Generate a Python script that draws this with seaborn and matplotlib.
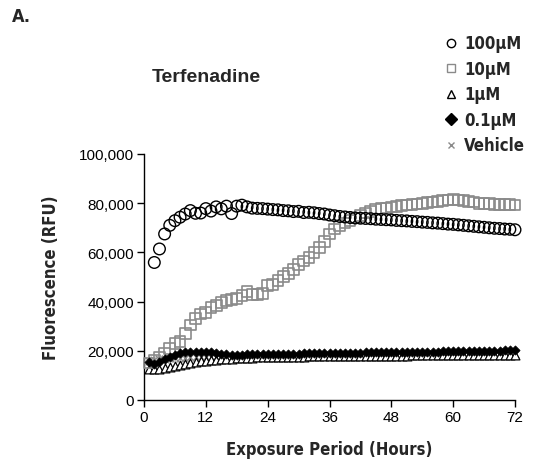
import matplotlib
matplotlib.use("Agg")
import matplotlib.pyplot as plt
import matplotlib.ticker as mticker
from matplotlib.lines import Line2D
from matplotlib import font_manager
import seaborn as sns

hours = list(range(1, 73))
hours_100 = list(range(2, 73))

conc_100uM = [55900, 61400, 67500, 71000, 72900, 74300, 75600, 77000, 75900, 76000,
              77800, 76800, 78500, 77700, 78800, 75800, 78800, 79200, 78500, 78000,
              77900, 77800, 77600, 77400, 77300, 77000, 76900, 76600, 76700, 76200,
              76300, 76100, 75800, 75600, 75200, 74900, 74600, 74400, 74200, 74000,
              73900, 73800, 73700, 73500, 73400, 73300, 73200, 73000, 72900, 72800,
              72600, 72500, 72300, 72200, 72000, 71900, 71700, 71500, 71400, 71200,
              71000, 70800, 70600, 70400, 70200, 70000, 69800, 69700, 69500, 69400,
              69200]
conc_10uM = [15000, 16200, 17500, 19000, 21000, 23000, 23800, 27000, 30500, 33000,
             35000, 35500, 37500, 38500, 39500, 40500, 40800, 41300, 42500, 44000,
             43000, 43000, 43300, 46500, 47000, 48500, 50200, 51500, 53000, 55000,
             56500, 58000, 60000, 62000, 64500, 67500, 69500, 71000, 72000, 73000,
             74000, 75000, 76000, 76500, 77300, 77700, 78000, 78500, 78700, 79000,
             79300, 79500, 79700, 80000, 80300, 80500, 80700, 81000, 81300, 81500,
             81300, 81000, 80800, 80500, 80000, 79800, 79800, 79600, 79500, 79600,
             79500, 79300]
conc_1uM = [12500, 12400, 12800, 13200, 13600, 14000, 14400, 14800, 15200, 15500,
            15800, 16000, 16200, 16400, 16600, 16700, 16800, 16900, 17000, 17100,
            17200, 17300, 17300, 17400, 17400, 17500, 17500, 17500, 17600, 17600,
            17600, 17700, 17700, 17700, 17700, 17800, 17800, 17800, 17800, 17800,
            17900, 17900, 17900, 17900, 17900, 18000, 18000, 18000, 18000, 18000,
            18000, 18100, 18100, 18100, 18100, 18100, 18100, 18100, 18200, 18200,
            18200, 18200, 18200, 18200, 18200, 18300, 18300, 18300, 18300, 18300,
            18300, 18300]
conc_01uM = [15500, 14800, 15500, 16500, 17500, 18300, 19000, 19500, 19700, 19700,
             19600, 19500, 19400, 19000, 18700, 18500, 18300, 18300, 18400, 18500,
             18600, 18600, 18700, 18700, 18800, 18800, 18800, 18900, 18900, 18900,
             19000, 19000, 19000, 19100, 19100, 19100, 19200, 19200, 19200, 19300,
             19300, 19300, 19400, 19400, 19400, 19500, 19500, 19500, 19500, 19600,
             19600, 19600, 19600, 19700, 19700, 19700, 19700, 19800, 19800, 19800,
             19800, 19900, 19900, 19900, 20000, 20000, 20000, 20100, 20100, 20200,
             20200, 20200]
vehicle = [16000, 16300, 16600, 16800, 17000, 17000, 17100, 17200, 17300, 17300,
           17400, 17400, 17500, 17500, 17500, 17600, 17600, 17600, 17700, 17700,
           17700, 17800, 17800, 17800, 17800, 17900, 17900, 17900, 17900, 18000,
           18000, 18000, 18000, 18100, 18100, 18100, 18100, 18200, 18200, 18200,
           18200, 18300, 18300, 18300, 18300, 18300, 18400, 18400, 18400, 18400,
           18500, 18500, 18500, 18500, 18500, 18600, 18600, 18600, 18600, 18600,
           18700, 18700, 18700, 18700, 18700, 18800, 18800, 18800, 18800, 18800,
           18900, 18900]

labels = ["100µM", "10µM", "1µM", "0.1µM", "Vehicle"]
x_ticks = [0, 12, 24, 36, 48, 60, 72]
y_ticks = [0, 20000, 40000, 60000, 80000, 100000]

sns.set_style("ticks")
plt.rcParams["font.family"] = ["Liberation Sans", "DejaVu Sans"]


def narrow(size):
    return font_manager.FontProperties(family="DejaVu Sans", stretch="condensed",
                                       weight="bold", size=size)


fig = plt.figure(figsize=(5.34, 4.6), dpi=100)
# axes box: x 144..515 px, y 155..401 px
ax = fig.add_axes([144 / 534, 59 / 460, 371 / 534, 246 / 460])

gray = "#8a8a8a"
sns.scatterplot(x=hours, y=vehicle, marker="x", color=gray, s=30, linewidth=1.0, ax=ax, clip_on=False, zorder=3)
sns.scatterplot(x=hours, y=conc_1uM, marker="^", facecolor="white", edgecolor="black", s=40, linewidth=0.9, ax=ax, clip_on=False, zorder=3)
sns.scatterplot(x=hours, y=conc_01uM, marker="D", color="black", s=22, linewidth=0.5, edgecolor="black", ax=ax, clip_on=False, zorder=4)
sns.scatterplot(x=hours, y=conc_10uM, marker="s", facecolor="none", edgecolor=gray, s=60, linewidth=1.2, ax=ax, clip_on=False, zorder=3)
sns.scatterplot(x=hours_100, y=conc_100uM, marker="o", facecolor="none", edgecolor="black", s=70, linewidth=1.0, ax=ax, clip_on=False, zorder=3)

ax.set_xlim(0, 72)
ax.set_ylim(0, 100000)
ax.set_xticks(x_ticks)
ax.set_yticks(y_ticks)
ax.yaxis.set_major_formatter(mticker.StrMethodFormatter("{x:,.0f}"))
ax.tick_params(direction="out", length=5, width=1, labelsize=11, colors="black", pad=2)
sns.despine(ax=ax)
for sp in ["left", "bottom"]:
    ax.spines[sp].set_linewidth(1)
    ax.spines[sp].set_color("black")

ax.set_xlabel("Exposure Period (Hours)", fontproperties=narrow(12), labelpad=12)
ax.set_ylabel("Fluorescence (RFU)", fontproperties=narrow(12), labelpad=14)

fig.text(206 / 534, 1 - 78 / 460, "Terfenadine", ha="center", va="center", fontweight="bold", fontsize=14)
fig.text(12 / 534, 1 - 17 / 460, "A.", ha="left", va="center", fontproperties=narrow(13))

handles = [
    Line2D([], [], ls="", marker="o", mfc="none", mec="black", ms=6, mew=1.0),
    Line2D([], [], ls="", marker="s", mfc="none", mec=gray, ms=6, mew=1.0),
    Line2D([], [], ls="", marker="^", mfc="none", mec="black", ms=6, mew=1.0),
    Line2D([], [], ls="", marker="D", mfc="black", mec="black", ms=6),
    Line2D([], [], ls="", marker="x", color=gray, ms=5, mew=1.0),
]
fig.legend(handles, labels, loc="upper left", bbox_to_anchor=(436 / 534, 1 - 27 / 460),
           frameon=False, borderpad=0, handlelength=0.8, handletextpad=0.4, labelspacing=0.45,
           prop=narrow(12))

fig.savefig("out.png", dpi=100)
